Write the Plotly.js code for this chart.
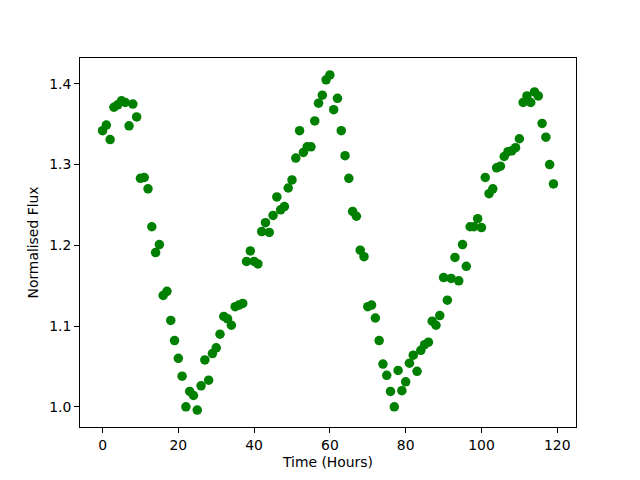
<!DOCTYPE html>
<html>
<head>
<meta charset="utf-8">
<script src="https://cdn.plot.ly/plotly-3.0.1.min.js"></script>
<style>html,body{margin:0;padding:0;background:#fff;}#chart{width:640px;height:480px;}</style>
</head>
<body>
<div id="chart"></div>
<script>
// Time in hours (one reading per hour)
const hours = [];
for (let i = 0; i < 120; i++) hours.push(i);

// Normalised flux values
const flux = [
  1.342, 1.349, 1.331, 1.371, 1.374, 1.379, 1.377, 1.348, 1.375, 1.359,
  1.283, 1.284, 1.270, 1.223, 1.191, 1.201, 1.138, 1.143, 1.107, 1.082,
  1.060, 1.038, 1.000, 1.019, 1.014, 0.996, 1.026, 1.058, 1.033, 1.066,
  1.073, 1.090, 1.112, 1.109, 1.101, 1.124, 1.126, 1.128, 1.180, 1.193,
  1.180, 1.177, 1.217, 1.228, 1.216, 1.237, 1.260, 1.244, 1.248, 1.271,
  1.281, 1.308, 1.342, 1.315, 1.322, 1.322, 1.354, 1.376, 1.386, 1.405,
  1.411, 1.368, 1.382, 1.342, 1.311, 1.283, 1.242, 1.236, 1.194, 1.186,
  1.124, 1.126, 1.110, 1.082, 1.053, 1.039, 1.019, 1.000, 1.045, 1.020,
  1.031, 1.054, 1.064, 1.044, 1.070, 1.077, 1.080, 1.106, 1.101, 1.113,
  1.160, 1.132, 1.159, 1.185, 1.156, 1.201, 1.174, 1.223, 1.223, 1.233,
  1.222, 1.284, 1.264, 1.270, 1.296, 1.298, 1.310, 1.316, 1.317, 1.321,
  1.332, 1.377, 1.385, 1.377, 1.390, 1.385, 1.351, 1.334, 1.300, 1.276
];

const xTicks = [0, 20, 40, 60, 80, 100, 120];
const yTicks = [1.0, 1.1, 1.2, 1.3, 1.4];
const yTickLabels = ["1.0", "1.1", "1.2", "1.3", "1.4"];

const trace = {
  x: hours, y: flux, type: 'scatter', mode: 'markers',
  marker: {color: '#008000', size: 9.5, line: {width: 0}},
  hoverinfo: 'skip'
};

const font = {family: 'DejaVu Sans, sans-serif', size: 13.9, color: '#000'};
const layout = {
  width: 640, height: 480,
  margin: {l: 80, r: 64, t: 58, b: 53, pad: 0},
  paper_bgcolor: '#fff', plot_bgcolor: '#fff',
  showlegend: false,
  font: font,
  xaxis: {
    range: [-5.95, 124.95], tickvals: xTicks, ticktext: xTicks.map(String),
    showgrid: false, zeroline: false, showline: true, linecolor: '#000', linewidth: 1,
    mirror: true, ticks: 'outside', ticklen: 5, tickwidth: 1, tickcolor: '#000',
    tickfont: font,
    title: {text: 'Time (Hours)', font: font, standoff: 5}
  },
  yaxis: {
    range: [0.975, 1.432], tickvals: yTicks, ticktext: yTickLabels,
    showgrid: false, zeroline: false, showline: true, linecolor: '#000', linewidth: 1,
    mirror: true, ticks: 'outside', ticklen: 5, tickwidth: 1, tickcolor: '#000',
    tickfont: font,
    title: {text: 'Normalised Flux', font: font, standoff: 7}
  }
};

Plotly.newPlot('chart', [trace], layout, {displayModeBar: false, staticPlot: true});
</script>
</body>
</html>
